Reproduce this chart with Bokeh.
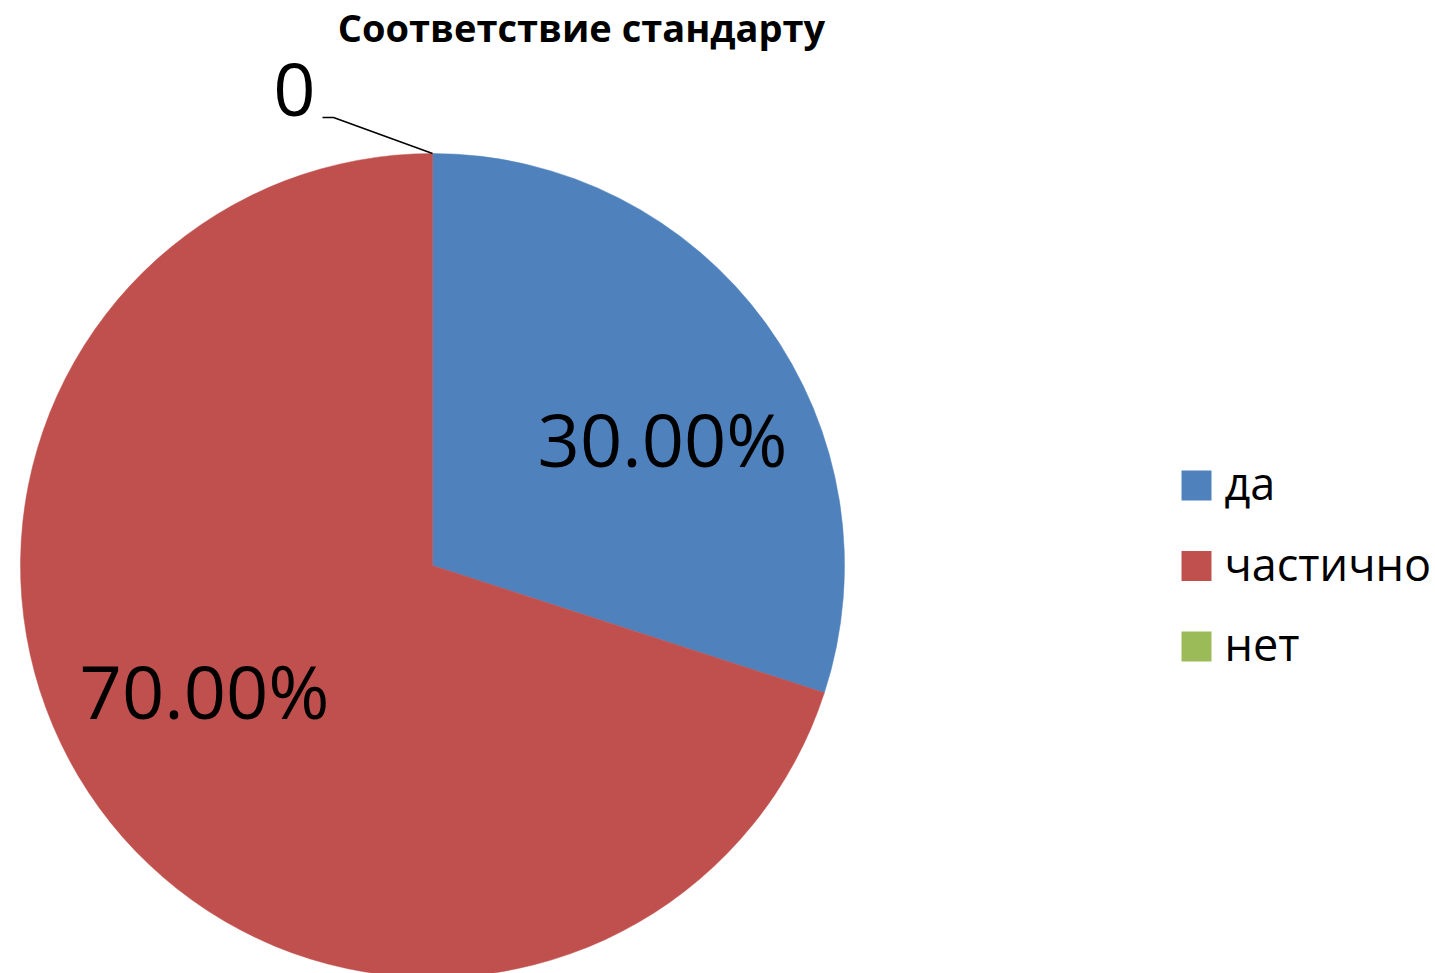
import math
from bokeh.plotting import figure
from bokeh.models import Range1d, ColumnDataSource
from bokeh.core.properties import value
from bokeh.embed import file_html
from bokeh.resources import INLINE

# ---- data ----
title = "Соответствие стандарту"
categories = ["да", "частично", "нет"]
values = [30.0, 70.0, 0.0]
colors = ["#4F81BD", "#C0504D", "#9BBB59"]

# ---- layout (pixels) ----
W, H = 1435, 973
CX, CY, R = 432, 565, 412          # pie centre / radius in page pixels
FONT = "Open Sans"
BASE_FIX = 0.4                     # baseline correction (fraction of font size)
# data-label baseline offsets from the pie centre (dx, dy up)
label_offsets = [(230, 97), (-228, -155), (-138, 446)]
zero_leader = [(-99, 448), (-110, 448)]
LEG_X, LEG_Y0, LEG_DY, LEG_SQ = 1196, 485, 80.5, 30
LAB_FS, TITLE_FS, LEG_FS = 74, 38, 45

p = figure(width=W, height=H, output_backend="svg", toolbar_location=None,
           x_range=Range1d(0, W), y_range=Range1d(-H, 0),
           min_border=0, outline_line_color=None,
           x_axis_location=None, y_axis_location=None,
           background_fill_color="white", border_fill_color="white")
p.grid.grid_line_color = None

cx, cy = CX, -CY
total = sum(values)
starts, ends = [], []
cum = 0.0
for v in values:
    a0 = math.pi / 2 - 2 * math.pi * cum / total
    a1 = a0 - 2 * math.pi * v / total
    starts.append(a0)
    ends.append(a1)
    cum += v

idx = [i for i, v in enumerate(values) if v > 0]
src = ColumnDataSource(dict(
    x=[cx] * len(idx), y=[cy] * len(idx),
    start=[starts[i] for i in idx], end=[ends[i] for i in idx],
    color=[colors[i] for i in idx]))
p.wedge(x="x", y="y", radius=R, start_angle="start", end_angle="end",
        direction="clock", fill_color="color", line_color="color", line_width=0.5,
        source=src)

# data labels
lab_x, lab_y, lab_t = [], [], []
for i, v in enumerate(values):
    dx, dy = label_offsets[i]
    lab_x.append(cx + dx)
    lab_y.append(cy + dy + BASE_FIX * LAB_FS)
    lab_t.append(f"{v / total * 100:.2f}%" if v > 0 else f"{v:g}")
p.text(x=lab_x, y=lab_y, text=lab_t, text_font=value(FONT),
       text_font_size=f"{LAB_FS}px",
       text_align="center", text_baseline="alphabetic", text_color="black")

# leader line for the zero slice
for i, v in enumerate(values):
    if v == 0:
        ex = cx + R * math.cos(starts[i])
        ey = cy + R * math.sin(starts[i])
        xs = [ex] + [cx + d[0] for d in zero_leader]
        ys = [ey] + [cy + d[1] for d in zero_leader]
        p.line(xs, ys, line_color="black", line_width=1.5)

# title
p.text(x=[581], y=[-42 + BASE_FIX * TITLE_FS], text=[title], text_font=value(FONT),
       text_font_size=f"{TITLE_FS}px",
       text_font_style="bold", text_align="center", text_baseline="alphabetic",
       text_color="black")

# legend
ly = [-(LEG_Y0 + k * LEG_DY) for k in range(len(categories))]
p.rect(x=[LEG_X] * len(categories), y=ly, width=LEG_SQ, height=LEG_SQ,
       fill_color=colors, line_color=None)
p.text(x=[LEG_X + 28] * len(categories),
       y=[v - 15 + BASE_FIX * LEG_FS for v in ly], text=categories,
       text_font=value(FONT), text_font_size=f"{LEG_FS}px", text_align="left",
       text_baseline="alphabetic", text_color="black")

open("out.html", "w").write(file_html(p, INLINE))
